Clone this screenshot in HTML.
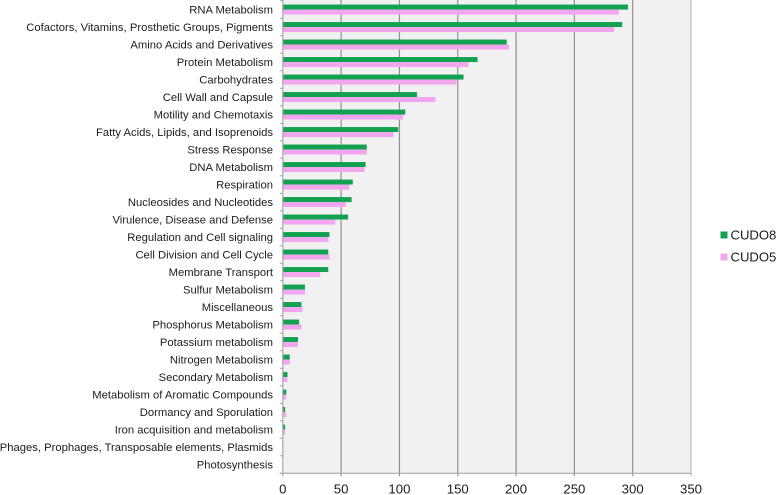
<!DOCTYPE html>
<html>
<head>
<meta charset="utf-8">
<style>
html,body{margin:0;padding:0;background:#fff;}
svg{display:block;font-family:"Liberation Sans",sans-serif;}
</style>
</head>
<body>
<svg id="chart" width="778" height="495" viewBox="0 0 778 495" xmlns="http://www.w3.org/2000/svg"></svg>
<script>
const categories = ["RNA Metabolism","Cofactors, Vitamins, Prosthetic Groups, Pigments","Amino Acids and Derivatives","Protein Metabolism","Carbohydrates","Cell Wall and Capsule","Motility and Chemotaxis","Fatty Acids, Lipids, and Isoprenoids","Stress Response","DNA Metabolism","Respiration","Nucleosides and Nucleotides","Virulence, Disease and Defense","Regulation and Cell signaling","Cell Division and Cell Cycle","Membrane Transport","Sulfur Metabolism","Miscellaneous","Phosphorus Metabolism","Potassium metabolism","Nitrogen Metabolism","Secondary Metabolism","Metabolism of Aromatic Compounds","Dormancy and Sporulation","Iron acquisition and metabolism","Phages, Prophages, Transposable elements, Plasmids","Photosynthesis"];
const cudo8 = [296,291,192,167,155,115,105,99,72,71,60,59,56,40,39,39,19,16,14,13,6,4,3,2,2,0.5,0];
const cudo5 = [288,284,194,159,149,131,103,95,72,70,57,54,45,39,40,32,19,17,16,13,6,4,3,3,2,0.5,0];
const xTicks = [0,50,100,150,200,250,300,350];
const seriesNames = ["CUDO8","CUDO5"];

const svg = document.getElementById('chart');
const NS = 'http://www.w3.org/2000/svg';
const left = 282.8, right = 691, top_ = 0.8, bottom = 473.3;
const xMax = 350;
const GREEN = '#12a150', PINK = '#f3a6f0';
const x = v => left + (v / xMax) * (right - left);
const band = (bottom - top_) / categories.length;
const yCenter = i => top_ + band * (i + 0.5);

function add(tag, attrs, parent) {
  const el = document.createElementNS(NS, tag);
  for (const k in attrs) el.setAttribute(k, attrs[k]);
  (parent || svg).appendChild(el);
  return el;
}

const bg = add('rect', {x: left, y: 0, width: right - left, height: bottom, fill: '#f1f1f1'});



xTicks.forEach(t => {
  if (t === 0) return;
  const g = add('line', {x1: x(t), x2: x(t), y1: 0, y2: bottom + 3, stroke: t === xMax ? '#bdbdbd' : '#909090', 'stroke-width': 1.2});
  
  
});

categories.forEach((c, i) => {
  const cy = yCenter(i);
  const b8 = add('rect', {x: left, y: cy - 5, width: Math.max(0, x(cudo8[i]) - left), height: 5, fill: GREEN});
  
  
  const b5 = add('rect', {x: left, y: cy, width: Math.max(0, x(cudo5[i]) - left), height: 5, fill: PINK});
  
  
  const lab = add('text', {x: 273, y: cy + 4, 'text-anchor': 'end', 'font-size': 11.25, fill: '#1c1c1c'});
  lab.textContent = c;
  
  
});

for (let i = 0; i <= categories.length; i++) {
  const yy = top_ + band * i;
  const tk = add('line', {x1: left - 3, x2: left, y1: yy, y2: yy, stroke: '#a0a0a0', 'stroke-width': 1});
  
  
}

const yAxis = add('line', {x1: left, x2: left, y1: 0, y2: bottom + 3, stroke: '#a8a8a8', 'stroke-width': 1.2});


const xAxis = add('line', {x1: left - 3, x2: right, y1: bottom, y2: bottom, stroke: '#a8a8a8', 'stroke-width': 1.2});



xTicks.forEach(t => {
  const lab = add('text', {x: x(t), y: 493.5, 'text-anchor': 'middle', 'font-size': 13.2, fill: '#1c1c1c'});
  lab.textContent = t;
  
  
});

const legendY = [235, 257];
const legendColors = [GREEN, PINK];
seriesNames.forEach((n, i) => {
  const sw = add('rect', {x: 720.5, y: legendY[i] - 3.5, width: 7, height: 7, fill: legendColors[i]});
  
  
  const tx = add('text', {x: 730.5, y: legendY[i] + 4.5, 'font-size': 13.1, fill: '#1c1c1c'});
  tx.textContent = n;
  
  
});
</script>
</body>
</html>
